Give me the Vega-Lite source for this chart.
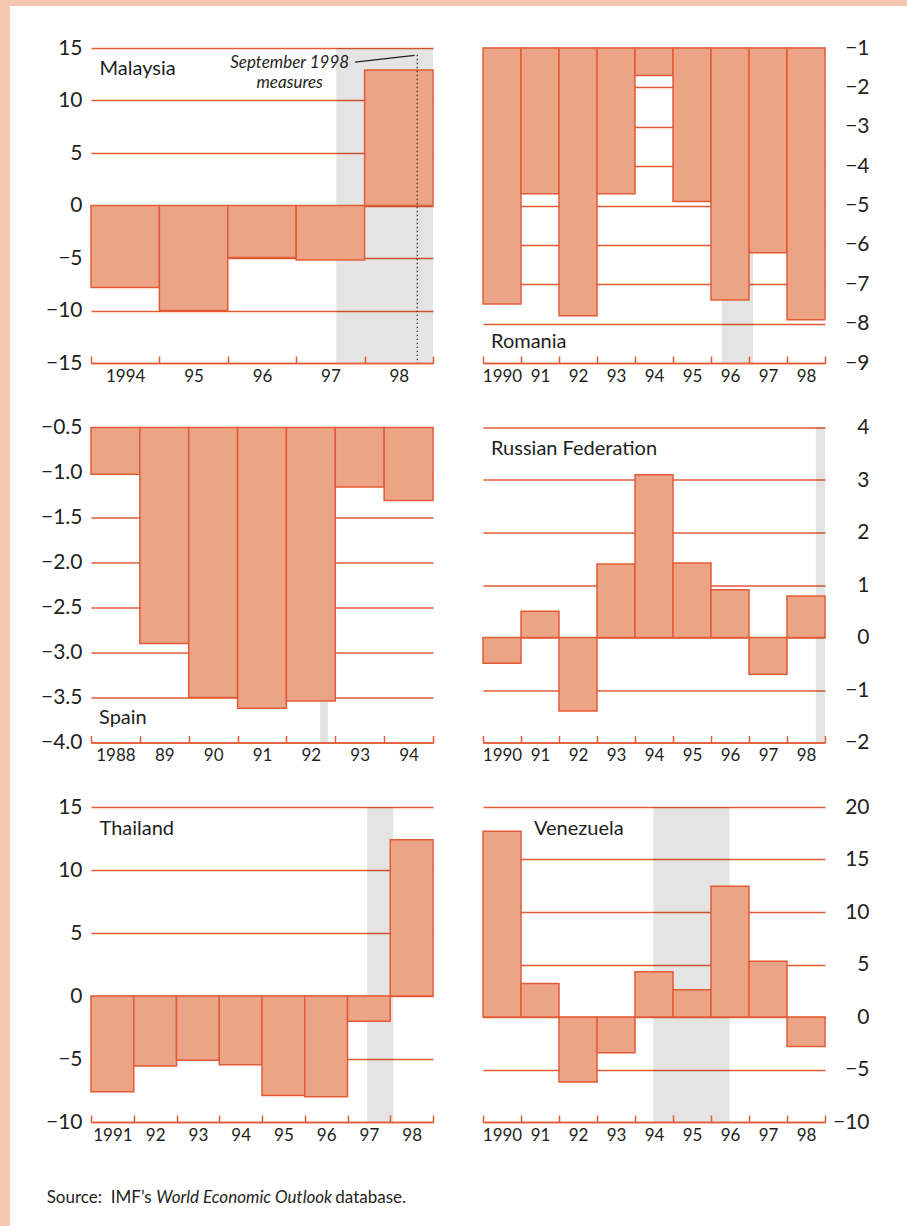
{
  "$schema": "https://vega.github.io/schema/vega-lite/v6.json",
  "padding": 0,
  "background": "white",
  "config": {
    "view": {"stroke": null},
    "font": "Lato",
    "text": {"font": "Lato", "color": "#231f20"},
    "axis": {"labelFont": "Lato", "labelColor": "#231f20", "labelFlush": false, "labelOverlap": false, "labelBound": false},
    "axisX": {"domain": true, "domainColor": "#e35b36", "domainWidth": 1.5, "ticks": true, "tickColor": "#e35b36", "tickWidth": 1.5, "tickSize": -7, "tickBand": "extent", "labelFontSize": 17, "labelPadding": 12, "labelAngle": 0, "grid": false},
    "axisY": {"domain": false, "ticks": false, "grid": true, "gridColor": "#e35b36", "gridWidth": 1.4, "labelFontSize": 21, "labelPadding": 9, "tickCount": 20}
  },
  "datasets": {
    "bars": [
      {"country": "Malaysia", "year": 1994, "value": -7.8},
      {"country": "Malaysia", "year": 1995, "value": -10.0},
      {"country": "Malaysia", "year": 1996, "value": -4.95},
      {"country": "Malaysia", "year": 1997, "value": -5.2},
      {"country": "Malaysia", "year": 1998, "value": 12.9},
      {"country": "Romania", "year": 1990, "value": -7.5},
      {"country": "Romania", "year": 1991, "value": -4.7},
      {"country": "Romania", "year": 1992, "value": -7.8},
      {"country": "Romania", "year": 1993, "value": -4.7},
      {"country": "Romania", "year": 1994, "value": -1.7},
      {"country": "Romania", "year": 1995, "value": -4.9},
      {"country": "Romania", "year": 1996, "value": -7.4},
      {"country": "Romania", "year": 1997, "value": -6.2},
      {"country": "Romania", "year": 1998, "value": -7.9},
      {"country": "Spain", "year": 1988, "value": -1.02},
      {"country": "Spain", "year": 1989, "value": -2.9},
      {"country": "Spain", "year": 1990, "value": -3.5},
      {"country": "Spain", "year": 1991, "value": -3.62},
      {"country": "Spain", "year": 1992, "value": -3.54},
      {"country": "Spain", "year": 1993, "value": -1.16},
      {"country": "Spain", "year": 1994, "value": -1.31},
      {"country": "Russia", "year": 1990, "value": -0.49},
      {"country": "Russia", "year": 1991, "value": 0.5},
      {"country": "Russia", "year": 1992, "value": -1.4},
      {"country": "Russia", "year": 1993, "value": 1.4},
      {"country": "Russia", "year": 1994, "value": 3.1},
      {"country": "Russia", "year": 1995, "value": 1.42},
      {"country": "Russia", "year": 1996, "value": 0.91},
      {"country": "Russia", "year": 1997, "value": -0.7},
      {"country": "Russia", "year": 1998, "value": 0.79},
      {"country": "Thailand", "year": 1991, "value": -7.6},
      {"country": "Thailand", "year": 1992, "value": -5.55},
      {"country": "Thailand", "year": 1993, "value": -5.1},
      {"country": "Thailand", "year": 1994, "value": -5.45},
      {"country": "Thailand", "year": 1995, "value": -7.9},
      {"country": "Thailand", "year": 1996, "value": -8.0},
      {"country": "Thailand", "year": 1997, "value": -2.0},
      {"country": "Thailand", "year": 1998, "value": 12.4},
      {"country": "Venezuela", "year": 1990, "value": 17.7},
      {"country": "Venezuela", "year": 1991, "value": 3.2},
      {"country": "Venezuela", "year": 1992, "value": -6.2},
      {"country": "Venezuela", "year": 1993, "value": -3.4},
      {"country": "Venezuela", "year": 1994, "value": 4.3},
      {"country": "Venezuela", "year": 1995, "value": 2.6},
      {"country": "Venezuela", "year": 1996, "value": 12.45},
      {"country": "Venezuela", "year": 1997, "value": 5.3},
      {"country": "Venezuela", "year": 1998, "value": -2.8}
    ],
    "shades": [
      {"country": "Malaysia", "start": 1997.585, "end": 1999},
      {"country": "Romania", "start": 1996.28, "end": 1997.11},
      {"country": "Spain", "start": 1992.69, "end": 1992.85},
      {"country": "Russia", "start": 1998.76, "end": 1999},
      {"country": "Thailand", "start": 1997.46, "end": 1998.07},
      {"country": "Venezuela", "start": 1994.48, "end": 1996.49}
    ]
  },
  "spacing": 0,
  "vconcat": [
    {"width": 907, "height": 6, "view": {"fill": "#f5c6b0", "stroke": null}, "data": {"values": []}, "mark": "rect", "encoding": {}},
    {
      "spacing": 30,
      "hconcat": [
        {"width": 10, "height": 1220, "view": {"fill": "#f5c6b0", "stroke": null}, "data": {"values": []}, "mark": "rect", "encoding": {}},
        {
          "spacing": 0,
          "vconcat": [
            {"width": 1, "height": 30.5, "data": {"values": []}, "mark": "rect", "encoding": {}},
            {
              "columns": 2,
              "bounds": "flush",
              "spacing": {"row": 64.5, "column": 50},
              "concat": [
                {
                  "width": 342, "height": 315,
                  "resolve": {"scale": {"x": "independent"}},
                  "layer": [
                    {"data": {"name": "shades"}, "transform": [{"filter": "datum.country === 'Malaysia'"}],
                     "mark": {"type": "rect", "fill": "#000000", "opacity": 0.105},
                     "encoding": {"x": {"field": "start", "type": "quantitative", "scale": {"domain": [1994, 1999], "nice": false, "zero": false}, "axis": null}, "x2": {"field": "end"}}},
                    {"data": {"name": "bars"}, "transform": [{"filter": "datum.country === 'Malaysia'"}],
                     "mark": {"type": "bar", "fill": "#eba485", "stroke": "#e35b36", "strokeWidth": 1.5},
                     "encoding": {
                       "x": {"field": "year", "type": "ordinal", "scale": {"paddingInner": 0, "paddingOuter": 0}, "axis": {"title": null, "zindex": 1, "labelExpr": "datum.index == 0 ? datum.label : substring(datum.label, 2)"}},
                       "y": {"field": "value", "type": "quantitative", "scale": {"domain": [-15, 15], "nice": false, "zero": false}, "axis": {"title": null, "orient": "left", "values": [-15, -10, -5, 0, 5, 10, 15], "tickCount": 20, "format": "d"}},
                       "y2": {"datum": 0}
                     }},
                    {"data": {"values": [{}]},
                     "layer": [
                       {"mark": {"type": "text", "align": "left", "baseline": "alphabetic", "fontSize": 20, "dx": 8.5},
                        "encoding": {"x": {"datum": 1994, "type": "quantitative", "scale": {"domain": [1994, 1999], "nice": false, "zero": false}, "axis": null}, "y": {"datum": 12.4, "type": "quantitative", "scale": {"domain": [-15, 15], "nice": false, "zero": false}}, "text": {"value": "Malaysia"}}},
                       {"mark": {"type": "text", "align": "center", "baseline": "alphabetic", "fontSize": 17, "fontStyle": "italic", "lineHeight": 20},
                        "encoding": {"x": {"datum": 1996.905, "type": "quantitative", "scale": {"domain": [1994, 1999], "nice": false, "zero": false}, "axis": null}, "y": {"datum": 13.05, "type": "quantitative", "scale": {"domain": [-15, 15], "nice": false, "zero": false}}, "text": {"value": ["September 1998", "measures"]}}},
                       {"mark": {"type": "rule", "stroke": "#231f20", "strokeWidth": 1.3},
                        "encoding": {"x": {"datum": 1997.86, "type": "quantitative", "scale": {"domain": [1994, 1999], "nice": false, "zero": false}, "axis": null}, "y": {"datum": 13.65, "type": "quantitative", "scale": {"domain": [-15, 15], "nice": false, "zero": false}}, "x2": {"datum": 1998.73}, "y2": {"datum": 14.29}}},
                       {"mark": {"type": "rule", "stroke": "#333333", "strokeWidth": 1.3, "strokeDash": [1.3, 2.7]},
                        "encoding": {"x": {"datum": 1998.77, "type": "quantitative", "scale": {"domain": [1994, 1999], "nice": false, "zero": false}, "axis": null}, "y": {"datum": 14.35, "type": "quantitative", "scale": {"domain": [-15, 15], "nice": false, "zero": false}}, "y2": {"datum": -15}}}
                     ]}
                  ]
                },
                {
                  "width": 342, "height": 315,
                  "resolve": {"scale": {"x": "independent"}},
                  "layer": [
                    {"data": {"name": "shades"}, "transform": [{"filter": "datum.country === 'Romania'"}],
                     "mark": {"type": "rect", "fill": "#000000", "opacity": 0.105},
                     "encoding": {"x": {"field": "start", "type": "quantitative", "scale": {"domain": [1990, 1999], "nice": false, "zero": false}, "axis": null}, "x2": {"field": "end"}}},
                    {"data": {"name": "bars"}, "transform": [{"filter": "datum.country === 'Romania'"}],
                     "mark": {"type": "bar", "fill": "#eba485", "stroke": "#e35b36", "strokeWidth": 1.5},
                     "encoding": {
                       "x": {"field": "year", "type": "ordinal", "scale": {"paddingInner": 0, "paddingOuter": 0}, "axis": {"title": null, "zindex": 1, "labelExpr": "datum.index == 0 ? datum.label : substring(datum.label, 2)"}},
                       "y": {"field": "value", "type": "quantitative", "scale": {"domain": [-9, -1], "nice": false, "zero": false}, "axis": {"title": null, "orient": "right", "labelAlign": "right", "labelPadding": 44, "values": [-9, -8, -7, -6, -5, -4, -3, -2, -1], "tickCount": 20, "format": "d"}},
                       "y2": {"datum": -1}
                     }},
                    {"data": {"values": [{}]},
                     "mark": {"type": "text", "align": "left", "baseline": "alphabetic", "fontSize": 20, "dx": 8},
                     "encoding": {"x": {"datum": 1990, "type": "quantitative", "scale": {"domain": [1990, 1999], "nice": false, "zero": false}, "axis": null}, "y": {"datum": -8.62, "type": "quantitative", "scale": {"domain": [-9, -1], "nice": false, "zero": false}}, "text": {"value": "Romania"}}}
                  ]
                },
                {
                  "width": 342, "height": 315,
                  "resolve": {"scale": {"x": "independent"}},
                  "layer": [
                    {"data": {"name": "shades"}, "transform": [{"filter": "datum.country === 'Spain'"}],
                     "mark": {"type": "rect", "fill": "#000000", "opacity": 0.105},
                     "encoding": {"x": {"field": "start", "type": "quantitative", "scale": {"domain": [1988, 1995], "nice": false, "zero": false}, "axis": null}, "x2": {"field": "end"}}},
                    {"data": {"name": "bars"}, "transform": [{"filter": "datum.country === 'Spain'"}],
                     "mark": {"type": "bar", "fill": "#eba485", "stroke": "#e35b36", "strokeWidth": 1.5},
                     "encoding": {
                       "x": {"field": "year", "type": "ordinal", "scale": {"paddingInner": 0, "paddingOuter": 0}, "axis": {"title": null, "zindex": 1, "labelExpr": "datum.index == 0 ? datum.label : substring(datum.label, 2)"}},
                       "y": {"field": "value", "type": "quantitative", "scale": {"domain": [-4, -0.5], "nice": false, "zero": false}, "axis": {"title": null, "orient": "left", "values": [-4, -3.5, -3, -2.5, -2, -1.5, -1, -0.5], "tickCount": 20, "format": ".1f"}},
                       "y2": {"datum": -0.5}
                     }},
                    {"data": {"values": [{}]},
                     "mark": {"type": "text", "align": "left", "baseline": "alphabetic", "fontSize": 20, "dx": 8},
                     "encoding": {"x": {"datum": 1988, "type": "quantitative", "scale": {"domain": [1988, 1995], "nice": false, "zero": false}, "axis": null}, "y": {"datum": -3.79, "type": "quantitative", "scale": {"domain": [-4, -0.5], "nice": false, "zero": false}}, "text": {"value": "Spain"}}}
                  ]
                },
                {
                  "width": 342, "height": 315,
                  "resolve": {"scale": {"x": "independent"}},
                  "layer": [
                    {"data": {"name": "shades"}, "transform": [{"filter": "datum.country === 'Russia'"}],
                     "mark": {"type": "rect", "fill": "#000000", "opacity": 0.105},
                     "encoding": {"x": {"field": "start", "type": "quantitative", "scale": {"domain": [1990, 1999], "nice": false, "zero": false}, "axis": null}, "x2": {"field": "end"}}},
                    {"data": {"name": "bars"}, "transform": [{"filter": "datum.country === 'Russia'"}],
                     "mark": {"type": "bar", "fill": "#eba485", "stroke": "#e35b36", "strokeWidth": 1.5},
                     "encoding": {
                       "x": {"field": "year", "type": "ordinal", "scale": {"paddingInner": 0, "paddingOuter": 0}, "axis": {"title": null, "zindex": 1, "labelExpr": "datum.index == 0 ? datum.label : substring(datum.label, 2)"}},
                       "y": {"field": "value", "type": "quantitative", "scale": {"domain": [-2, 4], "nice": false, "zero": false}, "axis": {"title": null, "orient": "right", "labelAlign": "right", "labelPadding": 44, "values": [-2, -1, 0, 1, 2, 3, 4], "tickCount": 20, "format": "d"}},
                       "y2": {"datum": 0}
                     }},
                    {"data": {"values": [{}]},
                     "mark": {"type": "text", "align": "left", "baseline": "alphabetic", "fontSize": 20, "dx": 8},
                     "encoding": {"x": {"datum": 1990, "type": "quantitative", "scale": {"domain": [1990, 1999], "nice": false, "zero": false}, "axis": null}, "y": {"datum": 3.48, "type": "quantitative", "scale": {"domain": [-2, 4], "nice": false, "zero": false}}, "text": {"value": "Russian Federation"}}}
                  ]
                },
                {
                  "width": 342, "height": 315,
                  "resolve": {"scale": {"x": "independent"}},
                  "layer": [
                    {"data": {"name": "shades"}, "transform": [{"filter": "datum.country === 'Thailand'"}],
                     "mark": {"type": "rect", "fill": "#000000", "opacity": 0.105},
                     "encoding": {"x": {"field": "start", "type": "quantitative", "scale": {"domain": [1991, 1999], "nice": false, "zero": false}, "axis": null}, "x2": {"field": "end"}}},
                    {"data": {"name": "bars"}, "transform": [{"filter": "datum.country === 'Thailand'"}],
                     "mark": {"type": "bar", "fill": "#eba485", "stroke": "#e35b36", "strokeWidth": 1.5},
                     "encoding": {
                       "x": {"field": "year", "type": "ordinal", "scale": {"paddingInner": 0, "paddingOuter": 0}, "axis": {"title": null, "zindex": 1, "labelExpr": "datum.index == 0 ? datum.label : substring(datum.label, 2)"}},
                       "y": {"field": "value", "type": "quantitative", "scale": {"domain": [-10, 15], "nice": false, "zero": false}, "axis": {"title": null, "orient": "left", "values": [-10, -5, 0, 5, 10, 15], "tickCount": 20, "format": "d"}},
                       "y2": {"datum": 0}
                     }},
                    {"data": {"values": [{}]},
                     "mark": {"type": "text", "align": "left", "baseline": "alphabetic", "fontSize": 20, "dx": 8.5},
                     "encoding": {"x": {"datum": 1991, "type": "quantitative", "scale": {"domain": [1991, 1999], "nice": false, "zero": false}, "axis": null}, "y": {"datum": 12.8, "type": "quantitative", "scale": {"domain": [-10, 15], "nice": false, "zero": false}}, "text": {"value": "Thailand"}}}
                  ]
                },
                {
                  "width": 342, "height": 315,
                  "resolve": {"scale": {"x": "independent"}},
                  "layer": [
                    {"data": {"name": "shades"}, "transform": [{"filter": "datum.country === 'Venezuela'"}],
                     "mark": {"type": "rect", "fill": "#000000", "opacity": 0.105},
                     "encoding": {"x": {"field": "start", "type": "quantitative", "scale": {"domain": [1990, 1999], "nice": false, "zero": false}, "axis": null}, "x2": {"field": "end"}}},
                    {"data": {"name": "bars"}, "transform": [{"filter": "datum.country === 'Venezuela'"}],
                     "mark": {"type": "bar", "fill": "#eba485", "stroke": "#e35b36", "strokeWidth": 1.5},
                     "encoding": {
                       "x": {"field": "year", "type": "ordinal", "scale": {"paddingInner": 0, "paddingOuter": 0}, "axis": {"title": null, "zindex": 1, "labelExpr": "datum.index == 0 ? datum.label : substring(datum.label, 2)"}},
                       "y": {"field": "value", "type": "quantitative", "scale": {"domain": [-10, 20], "nice": false, "zero": false}, "axis": {"title": null, "orient": "right", "labelAlign": "right", "labelPadding": 44, "values": [-10, -5, 0, 5, 10, 15, 20], "tickCount": 20, "format": "d"}},
                       "y2": {"datum": 0}
                     }},
                    {"data": {"values": [{}]},
                     "mark": {"type": "text", "align": "left", "baseline": "alphabetic", "fontSize": 20, "dx": 13},
                     "encoding": {"x": {"datum": 1991, "type": "quantitative", "scale": {"domain": [1990, 1999], "nice": false, "zero": false}, "axis": null}, "y": {"datum": 17.3, "type": "quantitative", "scale": {"domain": [-10, 20], "nice": false, "zero": false}}, "text": {"value": "Venezuela"}}}
                  ]
                }
              ]
            },
            {
              "width": 11.4, "height": 60,
              "data": {"values": [{}]},
              "layer": [
                {"mark": {"type": "text", "align": "left", "baseline": "alphabetic", "fontSize": 17, "dy": 30, "dx": -50}, "encoding": {"text": {"value": "Source: \u00a0IMF’s"}}},
                {"mark": {"type": "text", "align": "left", "baseline": "alphabetic", "fontSize": 17, "fontStyle": "italic", "dy": 30, "dx": 59.6}, "encoding": {"text": {"value": "World Economic Outlook"}}},
                {"mark": {"type": "text", "align": "left", "baseline": "alphabetic", "fontSize": 17, "dy": 30, "dx": 238.6}, "encoding": {"text": {"value": "database."}}}
              ]
            }
          ]
        }
      ]
    }
  ]
}
